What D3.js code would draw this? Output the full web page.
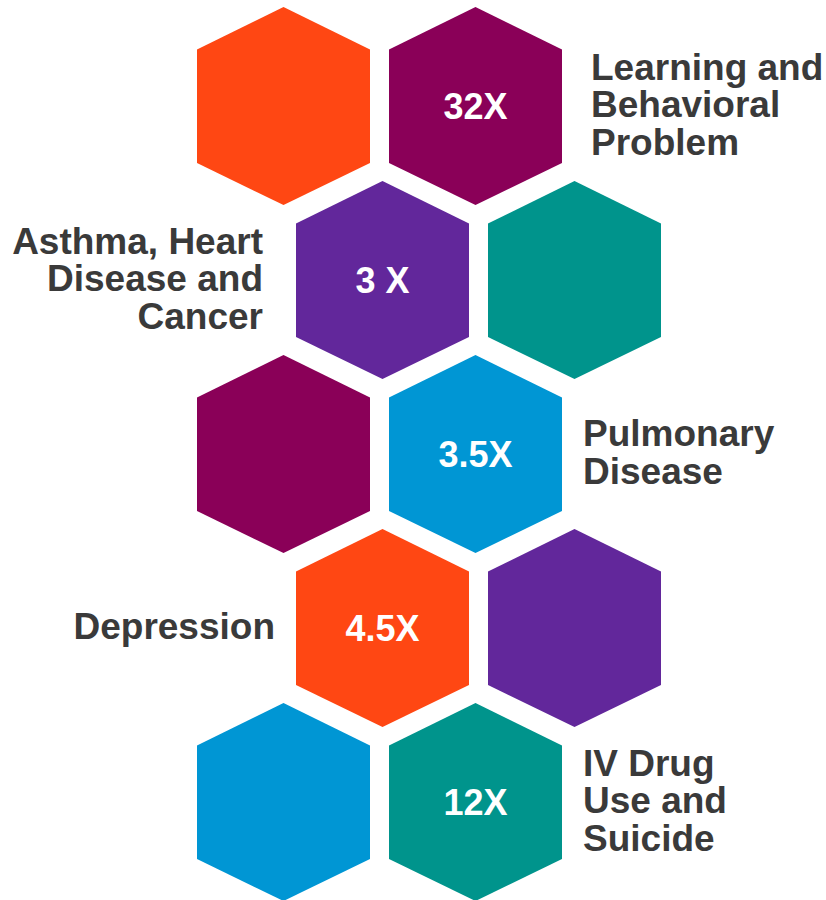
<!DOCTYPE html>
<html>
<head>
<meta charset="utf-8">
<script src="https://cdn.jsdelivr.net/npm/d3@7"></script>
<style>
  body { margin: 0; background: #fff; }
</style>
</head>
<body>
<script>
  var w = 826
  var h = 900

  // DATA
  var categories = ["Learning and Behavioral Problem", "Asthma, Heart Disease and Cancer", "Pulmonary Disease", "Depression", "IV Drug Use and Suicide"];
  var labelLines = [["Learning and", "Behavioral", "Problem"],
      ["Asthma, Heart", "Disease and", "Cancer"],
      ["Pulmonary", "Disease"],
      ["Depression"],
      ["IV Drug", "Use and", "Suicide"]];
  var values = ["32X", "3 X", "3.5X", "4.5X", "12X"];
  var valueCell = [1, 0, 1, 0, 1]; //which hex in the row holds the value
  var rowColors = [["#FF4713", "#8A0058"],
      ["#62279B", "#00948C"],
      ["#8A0058", "#0096D4"],
      ["#FF4713", "#62279B"],
      ["#0096D4", "#00948C"]];

  // layout
  var hexHalfW = 86.5, hexHalfH = 99, shoulder = 56.5;
  var rowShift = [0, 99, 0, 99, 0];
  var labelGap = [29, 33, 21, 21, 21];
  var lineH = 37.5;

  var svg = d3.select("body")
      .append("svg")
      .attr("width", w)
      .attr("height", h);

  //SCALES
  var y = d3.scalePoint()
      .domain(categories)
      .range([106, 802]);

  var x = d3.scaleLinear()
      .domain([0, 1])
      .range([283.5, 475.5]);

  var hexPath = function (cx, cy) {
      var pts = [[0, -hexHalfH], [hexHalfW, -shoulder], [hexHalfW, shoulder + 0.5], [0, hexHalfH], [-hexHalfW, shoulder + 0.5], [-hexHalfW, -shoulder]];
      return d3.line()(pts.map(function (p) { return [cx + p[0], cy + p[1]]; })) + "Z";
  }

  var cells = [];
  categories.forEach(function (c, i) {
      rowColors[i].forEach(function (col, j) {
          cells.push({ row: i, col: j, color: col, value: valueCell[i] == j ? values[i] : null });
      });
  });

  //HEXAGONS
  svg.selectAll("path.hex")
      .data(cells)
      .enter()
      .append("path")
      .attr("class", "hex")
      .attr("d", function (d) {
          return hexPath(x(d.col) + rowShift[d.row], y(categories[d.row]));
      })
      .attr("fill", function (d) { return d.color; });

  //VALUES
  svg.selectAll("text.value")
      .data(cells.filter(function (d) { return d.value; }))
      .enter()
      .append("text")
      .attr("class", "value")
      .attr("x", function (d) { return x(d.col) + rowShift[d.row]; })
      .attr("y", function (d) { return y(categories[d.row]); })
      .attr("dy", "0.35em")
      .attr("text-anchor", "middle")
      .attr("font-family", "'Liberation Sans', Arial, sans-serif")
      .attr("font-weight", "bold")
      .attr("font-size", "36px")
      .attr("fill", "white")
      .text(function (d) { return d.value; });

  //LABELS
  categories.forEach(function (c, i) {
      var vx = x(valueCell[i]) + rowShift[i];
      var right = valueCell[i] == 1;
      var lx = right ? vx + hexHalfW + labelGap[i] : vx - hexHalfW - labelGap[i];
      var lines = labelLines[i];
      var t = svg.append("text")
          .attr("x", lx)
          .attr("y", y(c))
          .attr("text-anchor", right ? "start" : "end")
          .attr("font-family", "'Liberation Sans', Arial, sans-serif")
          .attr("font-weight", "bold")
          .attr("font-size", "37px")
          .attr("fill", "#3A3A3A");
      t.selectAll("tspan")
          .data(lines)
          .enter()
          .append("tspan")
          .attr("x", lx)
          .attr("y", function (d, k) {
              return y(c) + (k - (lines.length - 1) / 2) * lineH;
          })
          .attr("dy", "0.3em")
          .text(function (d) { return d; });
  });
</script>
</body>
</html>
